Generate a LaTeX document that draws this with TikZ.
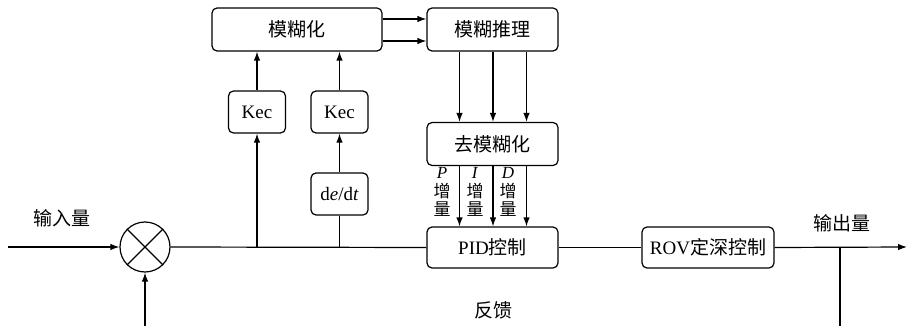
\documentclass[tikz,border=0pt]{standalone}
\usepackage{fontspec}
\setmainfont{Liberation Serif}
\newfontfamily\cjk{Noto Sans CJK SC}
\usetikzlibrary{arrows.meta}
\begin{document}
\begin{tikzpicture}[x=1pt,y=-1pt,
  every node/.style={font=\fontsize{19}{21}\selectfont},
  blk/.style={draw,rounded corners=5pt,line width=1.2pt,inner sep=0pt},
  con/.style={line width=1.2pt},
  arr/.style={con,-{Latex[length=9pt,width=6.5pt]}},
  lbl/.style={align=center,inner sep=0pt,font=\fontsize{17}{18.5}\selectfont}]
\useasboundingbox (0,0) rectangle (907,326);
% blocks
\node[blk,minimum width=170pt,minimum height=43pt] (fuzz) at (297,29.5) {\cjk 模糊化};
\node[blk,minimum width=131pt,minimum height=43pt] (infer) at (492.5,29.5) {\cjk 模糊推理};
\node[blk,minimum width=57pt,minimum height=42pt] (kec1) at (257,112) {Kec};
\node[blk,minimum width=57pt,minimum height=42pt] (kec2) at (339.5,112) {Kec};
\node[blk,minimum width=57pt,minimum height=42pt] (dedt) at (339.5,194) {d\textit{e}/d\textit{t}};
\node[blk,minimum width=131pt,minimum height=43pt] (defuzz) at (492.5,144) {\cjk 去模糊化};
\node[blk,minimum width=131pt,minimum height=41pt] (pid) at (492.5,247.5) {PID{\cjk 控制}};
\node[blk,minimum width=132pt,minimum height=41pt] (rov) at (708,247.5) {ROV{\cjk 定深控制}};
\node[draw,circle,line width=1.2pt,minimum size=50pt,inner sep=0pt] (sum) at (145,247) {};
\draw[con] (sum.north west) -- (sum.south east) (sum.north east) -- (sum.south west);
% coordinates
\coordinate (in) at (8,247);
\coordinate (b1) at (257,247);
\coordinate (b2) at (339.5,247);
\coordinate (fb) at (840,247);
\coordinate (fbb) at (840,326);
\coordinate (out) at (907,247);
\coordinate (sb) at (145,326);
% labels
\node (lin) at (62,218) {\cjk 输入量};
\node (lout) at (842,223) {\cjk 输出量};
\node (lfb) at (493,310) {\cjk 反馈};
\node[lbl] (lp) at (442,192) {\textit{P}\\{\cjk 增}\\{\cjk 量}};
\node[lbl] (li) at (475,192) {\textit{I}\\{\cjk 增}\\{\cjk 量}};
\node[lbl] (ld) at (508,192) {\textit{D}\\{\cjk 增}\\{\cjk 量}};
% connectors
\draw[arr] (in) -- (sum.west);
\draw[arr] (sb) -- (sum.south);
\draw[con] (sum.east) -- (pid.west);
\draw[arr] (b1) -- (kec1.south);
\draw[arr] (kec1.north) -- (kec1.north |- fuzz.south);
\draw[con] (b2) -- (dedt.south);
\draw[arr] (dedt.north) -- (kec2.south);
\draw[arr] (kec2.north) -- (kec2.north |- fuzz.south);
\draw[arr] (fuzz.east |- 0,19) -- (infer.west |- 0,19);
\draw[arr] (fuzz.east |- 0,41) -- (infer.west |- 0,41);
\foreach \x in {459.5,493,526.5}{
  \draw[arr] (infer.south -| \x,0) -- (defuzz.north -| \x,0);
  \draw[arr] (defuzz.south -| \x,0) -- (pid.north -| \x,0);
}
\draw[con] (pid.east) -- (rov.west);
\draw[arr] (rov.east) -- (out);
\draw[con] (fb) -- (fbb);
\end{tikzpicture}
\end{document}
